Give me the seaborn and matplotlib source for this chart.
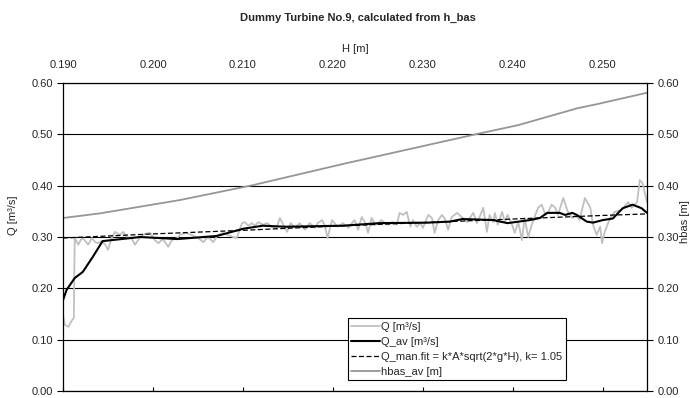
import matplotlib
matplotlib.use('Agg')
import matplotlib.pyplot as plt
import seaborn as sns
import numpy as np

# H [m] positions of the raw Q readings and the readings themselves [m3/s]
h_q = [0.1900, 0.1902, 0.1906, 0.1910, 0.1912, 0.1913, 0.1917, 0.1921, 0.1924, 0.1928,
       0.1932, 0.1936, 0.1939, 0.1943, 0.1947, 0.1950, 0.1954, 0.1958, 0.1963, 0.1967,
       0.1971, 0.1976, 0.1980, 0.1986, 0.1991, 0.1997, 0.2002, 0.2006, 0.2011, 0.2017,
       0.2021, 0.2027, 0.2030, 0.2036, 0.2043, 0.2050, 0.2056, 0.2061, 0.2067, 0.2072,
       0.2078, 0.2083, 0.2089, 0.2093, 0.2099, 0.2102, 0.2106, 0.2110, 0.2113, 0.2117,
       0.2122, 0.2127, 0.2132, 0.2137, 0.2141, 0.2144, 0.2149, 0.2153, 0.2158, 0.2163,
       0.2169, 0.2174, 0.2180, 0.2183, 0.2188, 0.2191, 0.2194, 0.2199, 0.2203, 0.2206,
       0.2211, 0.2217, 0.2221, 0.2224, 0.2228, 0.2232, 0.2236, 0.2239, 0.2243, 0.2247,
       0.2250, 0.2254, 0.2258, 0.2261, 0.2266, 0.2271, 0.2274, 0.2278, 0.2282, 0.2286,
       0.2289, 0.2293, 0.2297, 0.2300, 0.2306, 0.2310, 0.2313, 0.2317, 0.2321, 0.2324,
       0.2328, 0.2332, 0.2338, 0.2343, 0.2349, 0.2352, 0.2356, 0.2360, 0.2363, 0.2367,
       0.2371, 0.2374, 0.2378, 0.2380, 0.2383, 0.2388, 0.2391, 0.2394, 0.2399, 0.2402,
       0.2406, 0.2410, 0.2413, 0.2417, 0.2421, 0.2424, 0.2428, 0.2432, 0.2436, 0.2439,
       0.2443, 0.2447, 0.2450, 0.2456, 0.2461, 0.2466, 0.2470, 0.2474, 0.2480, 0.2486,
       0.2489, 0.2493, 0.2497, 0.2499, 0.2502, 0.2508, 0.2513, 0.2521, 0.2528, 0.2532,
       0.2538, 0.2541, 0.2544, 0.2549]
q_raw = [0.148, 0.129, 0.125, 0.138, 0.142, 0.298, 0.285, 0.298, 0.294, 0.285,
         0.298, 0.290, 0.288, 0.292, 0.285, 0.275, 0.298, 0.310, 0.304, 0.310,
         0.300, 0.298, 0.285, 0.300, 0.306, 0.308, 0.294, 0.288, 0.296, 0.281,
         0.294, 0.298, 0.304, 0.308, 0.304, 0.298, 0.290, 0.300, 0.290, 0.304,
         0.308, 0.304, 0.300, 0.298, 0.327, 0.329, 0.322, 0.327, 0.322, 0.329,
         0.324, 0.327, 0.320, 0.316, 0.337, 0.327, 0.310, 0.327, 0.318, 0.327,
         0.314, 0.327, 0.318, 0.327, 0.333, 0.322, 0.298, 0.333, 0.324, 0.320,
         0.327, 0.318, 0.327, 0.333, 0.314, 0.339, 0.327, 0.308, 0.337, 0.324,
         0.327, 0.333, 0.327, 0.324, 0.329, 0.324, 0.347, 0.343, 0.349, 0.320,
         0.333, 0.320, 0.327, 0.318, 0.343, 0.337, 0.308, 0.333, 0.343, 0.337,
         0.314, 0.339, 0.347, 0.339, 0.329, 0.337, 0.347, 0.327, 0.339, 0.357,
         0.310, 0.343, 0.329, 0.347, 0.324, 0.349, 0.329, 0.343, 0.324, 0.308,
         0.329, 0.294, 0.337, 0.300, 0.324, 0.339, 0.357, 0.363, 0.343, 0.347,
         0.363, 0.357, 0.343, 0.376, 0.349, 0.337, 0.343, 0.333, 0.376, 0.357,
         0.324, 0.304, 0.320, 0.288, 0.310, 0.337, 0.349, 0.353, 0.368, 0.357,
         0.368, 0.411, 0.405, 0.368]

# running average of Q
h_av = [0.1900, 0.1904, 0.1913, 0.1922, 0.1933, 0.1944, 0.1986, 0.2027, 0.2071, 0.2100,
        0.2122, 0.2147, 0.2211, 0.2252, 0.2306, 0.2330, 0.2344, 0.2378, 0.2394, 0.2419,
        0.2430, 0.2438, 0.2452, 0.2458, 0.2466, 0.2471, 0.2482, 0.2489, 0.2500, 0.2511,
        0.2522, 0.2533, 0.2543, 0.2549]
q_av = [0.177, 0.197, 0.220, 0.232, 0.261, 0.292, 0.300, 0.296, 0.302, 0.316,
        0.322, 0.320, 0.322, 0.327, 0.328, 0.330, 0.335, 0.333, 0.327, 0.333,
        0.337, 0.347, 0.347, 0.343, 0.347, 0.343, 0.330, 0.328, 0.333, 0.336,
        0.356, 0.363, 0.356, 0.347]

# manual fit Q = k*A*sqrt(2*g*H), k = 1.05
h_fit = [0.190, 0.200, 0.210, 0.220, 0.230, 0.240, 0.250, 0.2549]
q_fit = [0.298, 0.306, 0.313, 0.321, 0.328, 0.335, 0.342, 0.345]

# averaged basin level
h_lvl = [0.1900, 0.1941, 0.2030, 0.2111, 0.2213, 0.2361, 0.2406, 0.2472, 0.2494, 0.2549]
hbas_av = [0.337, 0.346, 0.372, 0.401, 0.443, 0.501, 0.518, 0.551, 0.559, 0.581]

h_ticks = [0.190, 0.200, 0.210, 0.220, 0.230, 0.240, 0.250]
y_ticks = [0.0, 0.1, 0.2, 0.3, 0.4, 0.5, 0.6]

sns.set_theme(style='white')
plt.rcParams['font.family'] = ['Liberation Sans', 'DejaVu Sans']
plt.rcParams['font.size'] = 8

fig = plt.figure(figsize=(6.9, 3.98), dpi=100)
ax = fig.add_axes([63/690, 7/398, 584/690, 308/398])

sns.lineplot(x=h_q, y=q_raw, ax=ax, color='#c0c0c0', lw=1.3, sort=False, estimator=None,
             label='Q [m³/s]')
sns.lineplot(x=h_av, y=q_av, ax=ax, color='black', lw=1.5, sort=False, estimator=None,
             label='Q_av [m³/s]')
sns.lineplot(x=h_fit, y=q_fit, ax=ax, color='black', lw=0.9, sort=False, estimator=None,
             label='Q_man.fit = k*A*sqrt(2*g*H), k= 1.05')
ax.lines[-1].set_dashes([4, 2])
sns.lineplot(x=h_lvl, y=hbas_av, ax=ax, color='#969696', lw=1.3, sort=False, estimator=None,
             label='hbas_av [m]')

ax.set_xlim(0.190, 0.2549)
ax.set_ylim(0, 0.6)
ax.set_yticks(y_ticks)
ax.set_yticklabels(['{:.2f}'.format(v) for v in y_ticks])
ax.set_xticks(h_ticks)
ax.tick_params(axis='x', bottom=True, labelbottom=False, direction='in', length=3,
               width=0.8, color='black')
ax.tick_params(axis='y', left=True, direction='out', length=4, width=0.8, pad=3,
               color='black', labelsize=8)
ax.yaxis.grid(True, color='black', lw=0.8)
ax.xaxis.grid(False)
for s in ax.spines.values():
    s.set_color('black')
    s.set_linewidth(0.9)
ax.set_xlabel('')
ax.set_ylabel('Q [m³/s]', fontsize=8)
ax.yaxis.set_label_coords(-0.077, 0.571)

# top axis with the H labels
secx = ax.secondary_xaxis('top')
secx.set_xticks(h_ticks)
secx.set_xticklabels(['{:.3f}'.format(v) for v in h_ticks])
secx.tick_params(length=0, pad=9, labelsize=8)
secx.spines['top'].set_visible(False)
secx.set_xlabel('H [m]', fontsize=8, labelpad=6)

# right axis for the basin level
ax2 = ax.twinx()
ax2.set_ylim(0, 0.6)
ax2.set_yticks(y_ticks)
ax2.set_yticklabels(['{:.2f}'.format(v) for v in y_ticks])
ax2.tick_params(axis='y', right=True, direction='out', length=4, width=0.8, pad=4,
                color='black', labelsize=8)
ax2.grid(False)
for s in ax2.spines.values():
    s.set_visible(False)
ax2.set_ylabel('hbas [m]', fontsize=8)
ax2.yaxis.set_label_coords(1.056, 0.549)

leg = ax.legend(loc='lower left', bbox_to_anchor=(0.488, 0.036), fontsize=8,
                frameon=True, fancybox=False, edgecolor='black', framealpha=1,
                handlelength=2.6, handletextpad=0.1, labelspacing=0.45,
                borderpad=0.3, borderaxespad=0)
leg.get_frame().set_linewidth(0.8)

fig.text(358/690, 1 - 18/398, 'Dummy Turbine No.9, calculated from h_bas',
         ha='center', va='center', fontsize=8, fontweight='bold')

fig.savefig('out.png', dpi=100)
